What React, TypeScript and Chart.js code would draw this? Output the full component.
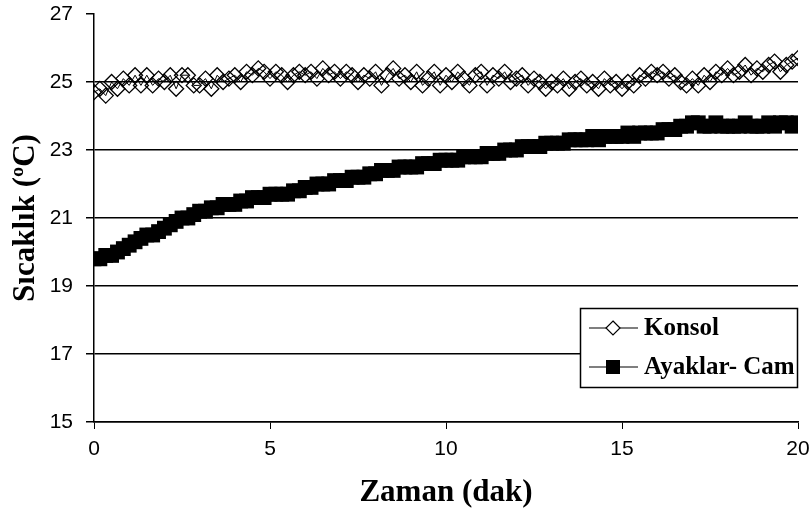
import React, { useEffect, useRef } from 'react';
import { Chart, registerables } from 'chart.js';

Chart.register(...registerables);

// sampling every 10 seconds, 0..20 minutes
const SAMPLE_STEP_MIN = 1 / 6;

const konsol: number[] = [
  24.7, 24.8, 24.6, 25.0, 24.8, 25.1,
  24.9, 25.2, 24.9, 25.2, 24.9, 25.1,
  25.0, 25.2, 24.8, 25.2, 25.2, 24.9,
  24.9, 25.1, 24.8, 25.2, 25.0, 25.1,
  25.2, 25.0, 25.3, 25.2, 25.4, 25.3,
  25.1, 25.3, 25.2, 25.0, 25.2, 25.3,
  25.2, 25.3, 25.1, 25.4, 25.2, 25.3,
  25.1, 25.3, 25.2, 25.0, 25.2, 25.1,
  25.3, 24.9, 25.2, 25.4, 25.1, 25.2,
  25.0, 25.3, 24.9, 25.1, 25.3, 24.9,
  25.2, 25.0, 25.3, 25.1, 24.9, 25.2,
  25.3, 24.9, 25.2, 25.1, 25.3, 25.0,
  25.1, 25.2, 24.9, 25.1, 25.0, 24.8,
  25.0, 24.9, 25.1, 24.8, 25.0, 25.1,
  24.9, 25.0, 24.8, 25.1, 24.9, 25.0,
  24.8, 25.0, 24.9, 25.2, 25.1, 25.3,
  25.2, 25.3, 25.1, 25.2, 25.0, 24.9,
  25.1, 24.9, 25.2, 25.0, 25.3, 25.2,
  25.4, 25.2, 25.3, 25.5, 25.2, 25.4,
  25.3, 25.5, 25.6, 25.3, 25.5, 25.6,
  25.7,
];

const ayaklarCam: number[] = [
  19.8, 19.8, 19.9, 19.9, 20.0, 20.1,
  20.2, 20.3, 20.4, 20.5, 20.5, 20.6,
  20.7, 20.8, 20.9, 21.0, 21.0, 21.1,
  21.2, 21.2, 21.3, 21.3, 21.4, 21.4,
  21.4, 21.5, 21.5, 21.6, 21.6, 21.6,
  21.7, 21.7, 21.7, 21.7, 21.8, 21.8,
  21.9, 21.9, 22.0, 22.0, 22.0, 22.1,
  22.1, 22.1, 22.2, 22.2, 22.2, 22.3,
  22.3, 22.4, 22.4, 22.4, 22.5, 22.5,
  22.5, 22.5, 22.6, 22.6, 22.6, 22.7,
  22.7, 22.7, 22.7, 22.8, 22.8, 22.8,
  22.8, 22.9, 22.9, 22.9, 23.0, 23.0,
  23.0, 23.1, 23.1, 23.1, 23.1, 23.2,
  23.2, 23.2, 23.2, 23.3, 23.3, 23.3,
  23.3, 23.4, 23.3, 23.4, 23.4, 23.4,
  23.4, 23.5, 23.4, 23.5, 23.5, 23.5,
  23.5, 23.6, 23.6, 23.6, 23.7, 23.7,
  23.8, 23.8, 23.7, 23.7, 23.8, 23.7,
  23.7, 23.7, 23.7, 23.8, 23.7, 23.7,
  23.7, 23.8, 23.7, 23.8, 23.8, 23.7,
  23.8,
];

const seriesNames = ['Konsol', 'Ayaklar- Cam'];
const xTicks = [0, 5, 10, 15, 20];
const yTicks = [15, 17, 19, 21, 23, 25, 27];
const xTitle = 'Zaman (dak)';
const yTitle = 'Sıcaklık (ºC)';

const toPoints = (vals: number[]) => vals.map((v, i) => ({ x: i * SAMPLE_STEP_MIN, y: v }));

const boxLegend = {
  id: 'boxLegend',
  afterDraw(chart: any) {
    const ctx = chart.ctx as CanvasRenderingContext2D;
    const x0 = 580, y0 = 308, w = 217, h = 79;
    ctx.save();
    ctx.fillStyle = '#fff';
    ctx.fillRect(x0, y0, w, h);
    ctx.strokeStyle = '#000';
    ctx.lineWidth = 1.5;
    ctx.strokeRect(x0 + 0.5, y0 + 0.5, w, h);
    const rows = [y0 + 20, y0 + 59];
    chart.data.datasets.forEach((ds: any, i: number) => {
      const y = rows[i];
      ctx.strokeStyle = '#000';
      ctx.lineWidth = 1.2;
      ctx.beginPath();
      ctx.moveTo(589, y);
      ctx.lineTo(638, y);
      ctx.stroke();
      const cx = 613;
      if (ds.pointStyle === 'rectRot') {
        const r = 7;
        ctx.beginPath();
        ctx.moveTo(cx, y - r);
        ctx.lineTo(cx + r, y);
        ctx.lineTo(cx, y + r);
        ctx.lineTo(cx - r, y);
        ctx.closePath();
        ctx.fillStyle = '#fff';
        ctx.fill();
        ctx.stroke();
      } else {
        ctx.fillStyle = '#000';
        ctx.fillRect(cx - 7, y - 7, 14, 14);
      }
      ctx.fillStyle = '#000';
      ctx.font = 'bold 25px "Liberation Serif", "Times New Roman", serif';
      ctx.textAlign = 'left';
      ctx.textBaseline = 'middle';
      ctx.fillText(ds.label, 644, y + 1);
    });
    ctx.restore();
  },
};

export default function App() {
  const ref = useRef<HTMLCanvasElement | null>(null);
  useEffect(() => {
    document.body.style.margin = '0';
    if (!ref.current) return;
    const chart = new Chart(ref.current, {
      type: 'scatter',
      data: {
        datasets: [
          {
            label: seriesNames[0],
            data: toPoints(konsol),
            showLine: true,
            borderColor: '#000',
            borderWidth: 1,
            backgroundColor: 'rgba(0,0,0,0)',
            pointStyle: 'rectRot',
            pointRadius: 7.5,
            pointBorderWidth: 1.3,
            pointBorderColor: '#000',
            pointBackgroundColor: 'rgba(0,0,0,0)',
          } as any,
          {
            label: seriesNames[1],
            data: toPoints(ayaklarCam),
            showLine: true,
            borderColor: '#000',
            borderWidth: 1,
            backgroundColor: '#000',
            pointStyle: 'rect',
            pointRadius: 10.5,
            pointBorderWidth: 0,
            pointBackgroundColor: '#000',
          } as any,
        ],
      },
      options: {
        responsive: false,
        animation: false,
        layout: { padding: { top: 14, right: 13, left: 0, bottom: 0 } },
        plugins: {
          legend: { display: false },
          tooltip: { enabled: false },
        },
        scales: {
          x: {
            type: 'linear',
            min: 0,
            max: 20,
            afterBuildTicks: (s: any) => { s.ticks = xTicks.map((v) => ({ value: v })); },
            afterFit: (s: any) => {
              s.height = 98;
              s.paddingLeft = 0;
              s.paddingRight = 0;
            },
            border: { display: true, color: '#000', width: 1.5 },
            grid: { drawOnChartArea: false, drawTicks: true, tickLength: 7, color: '#000', lineWidth: 1 },
            ticks: {
              color: '#000',
              padding: 8,
              font: { family: '"Liberation Sans", Arial, sans-serif', size: 21 },
            },
            title: {
              display: true,
              text: xTitle,
              color: '#000',
              padding: { top: 0, bottom: 8 },
              font: { family: '"Liberation Serif", "Times New Roman", serif', size: 31, weight: 'bold' },
            },
          },
          y: {
            type: 'linear',
            min: 15,
            max: 27,
            afterBuildTicks: (s: any) => { s.ticks = yTicks.map((v) => ({ value: v })); },
            afterFit: (s: any) => {
              s.width = 94;
              s.paddingTop = 0;
              s.paddingBottom = 0;
            },
            border: { display: true, color: '#000', width: 1.5 },
            grid: {
              drawTicks: true,
              tickLength: 8,
              color: (c: any) => (c.tick && c.tick.value === 27 ? 'rgba(0,0,0,0)' : '#000'),
              tickColor: '#000',
              lineWidth: 1.5,
            },
            ticks: {
              color: '#000',
              padding: 13,
              font: { family: '"Liberation Sans", Arial, sans-serif', size: 21 },
            },
            title: {
              display: true,
              text: yTitle,
              color: '#000',
              padding: { top: 7, bottom: 0 },
              font: { family: '"Liberation Serif", "Times New Roman", serif', size: 31, weight: 'bold' },
            },
          },
        },
      },
      plugins: [boxLegend],
    });
    return () => chart.destroy();
  }, []);
  return (
    <div style={{ width: 811, height: 520 }}>
      <canvas ref={ref} width={811} height={520} style={{ display: 'block' }} />
    </div>
  );
}
